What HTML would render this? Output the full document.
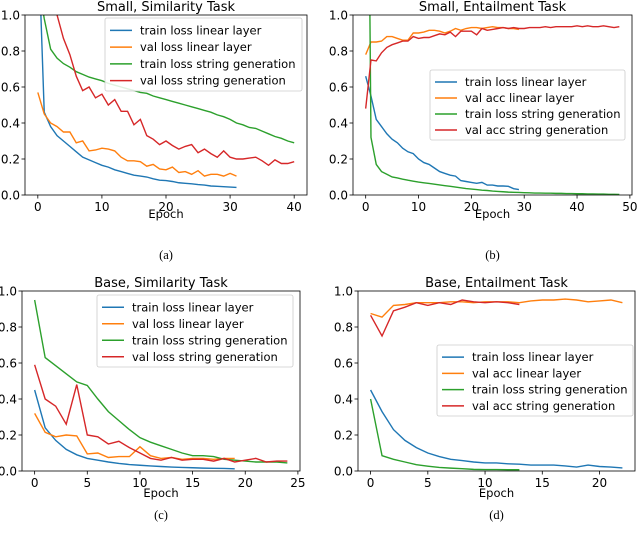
<!DOCTYPE html>
<html><head><meta charset="utf-8"><style>
html,body{margin:0;padding:0;background:#fff;}
svg{display:block;font-family:"DejaVu Sans","Liberation Sans",sans-serif;}
</style></head><body>
<svg id="fig" width="640" height="536" viewBox="0 0 640 536"></svg>
<script>
// ---- Panel (a) Small, Similarity
const aTrainLin=[1.5,0.46,0.38,0.33,0.30,0.27,0.24,0.21,0.195,0.18,0.165,0.155,0.14,0.13,0.12,0.11,0.105,0.1,0.09,0.082,0.08,0.075,0.068,0.065,0.062,0.058,0.055,0.05,0.048,0.046,0.044,0.042];
const aValLin=[0.57,0.45,0.40,0.38,0.35,0.35,0.29,0.30,0.245,0.25,0.26,0.255,0.245,0.21,0.19,0.19,0.185,0.16,0.17,0.145,0.14,0.155,0.125,0.13,0.115,0.135,0.105,0.115,0.115,0.105,0.12,0.105];
const aTrainGen=[1.2,0.98,0.81,0.76,0.73,0.71,0.685,0.67,0.655,0.645,0.635,0.62,0.61,0.60,0.59,0.58,0.57,0.565,0.55,0.54,0.53,0.52,0.51,0.50,0.49,0.48,0.47,0.46,0.445,0.435,0.42,0.40,0.39,0.375,0.37,0.355,0.34,0.325,0.315,0.30,0.29];
const aValGen=[1.5,1.3,1.1,1.0,0.87,0.78,0.66,0.58,0.60,0.54,0.56,0.50,0.53,0.465,0.465,0.39,0.42,0.33,0.31,0.28,0.30,0.275,0.255,0.27,0.28,0.235,0.255,0.23,0.21,0.245,0.21,0.20,0.20,0.205,0.21,0.19,0.165,0.195,0.175,0.175,0.185];
const aXTicks=[0,10,20,30,40];
// ---- Panel (b) Small, Entailment
const bTrainLin=[0.66,0.55,0.42,0.38,0.34,0.31,0.29,0.26,0.24,0.23,0.20,0.18,0.17,0.15,0.13,0.12,0.11,0.105,0.08,0.075,0.07,0.065,0.07,0.055,0.055,0.05,0.05,0.048,0.035,0.03];
const bValLin=[0.78,0.85,0.85,0.855,0.88,0.88,0.87,0.86,0.86,0.90,0.90,0.905,0.915,0.915,0.91,0.90,0.91,0.925,0.915,0.925,0.93,0.93,0.925,0.93,0.935,0.93,0.93,0.925,0.925,0.92];
const bTrainGen=[3.7,0.32,0.17,0.13,0.115,0.10,0.095,0.088,0.082,0.077,0.072,0.068,0.064,0.06,0.056,0.052,0.048,0.044,0.04,0.036,0.033,0.03,0.027,0.025,0.022,0.02,0.018,0.016,0.015,0.014,0.013,0.012,0.011,0.011,0.01,0.01,0.009,0.009,0.008,0.008,0.007,0.007,0.006,0.006,0.005,0.005,0.004,0.004,0.003];
const bValGen=[0.48,0.75,0.745,0.79,0.82,0.835,0.845,0.855,0.855,0.88,0.87,0.875,0.875,0.885,0.895,0.89,0.905,0.88,0.91,0.91,0.91,0.89,0.925,0.915,0.92,0.925,0.93,0.925,0.93,0.925,0.925,0.93,0.93,0.93,0.935,0.93,0.935,0.935,0.935,0.935,0.94,0.935,0.94,0.935,0.935,0.94,0.935,0.93,0.935];
const bXTicks=[0,10,20,30,40,50];
// ---- Panel (c) Base, Similarity
const cTrainLin=[0.45,0.24,0.17,0.12,0.09,0.07,0.06,0.05,0.042,0.036,0.032,0.028,0.025,0.022,0.02,0.018,0.016,0.015,0.014,0.012];
const cValLin=[0.32,0.215,0.19,0.20,0.195,0.095,0.10,0.075,0.08,0.08,0.135,0.085,0.07,0.075,0.065,0.07,0.07,0.065,0.07,0.07];
const cTrainGen=[0.95,0.63,0.585,0.54,0.495,0.475,0.40,0.33,0.28,0.23,0.185,0.16,0.14,0.12,0.10,0.085,0.085,0.08,0.065,0.06,0.055,0.05,0.05,0.05,0.045];
const cValGen=[0.59,0.40,0.36,0.26,0.48,0.20,0.19,0.15,0.165,0.13,0.10,0.07,0.06,0.075,0.06,0.065,0.065,0.055,0.07,0.05,0.06,0.07,0.05,0.055,0.055];
const cXTicks=[0,5,10,15,20,25];
// ---- Panel (d) Base, Entailment
const dTrainLin=[0.45,0.33,0.23,0.17,0.13,0.10,0.08,0.065,0.058,0.05,0.045,0.045,0.04,0.038,0.033,0.033,0.033,0.028,0.022,0.033,0.025,0.022,0.017];
const dValLin=[0.875,0.855,0.92,0.925,0.935,0.935,0.935,0.94,0.94,0.935,0.94,0.94,0.94,0.935,0.945,0.95,0.95,0.955,0.95,0.94,0.945,0.95,0.935];
const dTrainGen=[0.40,0.085,0.065,0.05,0.035,0.027,0.02,0.016,0.013,0.009,0.008,0.008,0.007,0.007];
const dValGen=[0.865,0.75,0.89,0.91,0.935,0.92,0.935,0.925,0.95,0.94,0.935,0.94,0.935,0.925];
const dXTicks=[0,5,10,15,20];
const yTicks=[0,0.2,0.4,0.6,0.8,1.0];
const simLabels=["train loss linear layer","val loss linear layer","train loss string generation","val loss string generation"];
const entLabels=["train loss linear layer","val acc linear layer","train loss string generation","val acc string generation"];
const colors=["#1f77b4","#ff7f0e","#2ca02c","#d62728"];

const NS="http://www.w3.org/2000/svg";
const svg=document.getElementById('fig');
function mk(tag,attrs,parent){const e=document.createElementNS(NS,tag);for(const k in attrs)e.setAttribute(k,attrs[k]);(parent||svg).appendChild(e);return e;}

const panels=[
 {id:'a',title:"Small, Similarity Task",L:25,R:307,T:15,B:195,xmin:-2,xmax:42,ticks:aXTicks,series:[aTrainLin,aValLin,aTrainGen,aValGen],labels:simLabels,leg:{x:105,y:18,w:197,h:73},cap:"(a)",capY:259,epY:218},
 {id:'b',title:"Small, Entailment Task",L:353,R:632,T:15,B:195,xmin:-2.4,xmax:50.4,ticks:bXTicks,series:[bTrainLin,bValLin,bTrainGen,bValGen],labels:entLabels,leg:{x:430,y:70,w:195,h:70},cap:"(b)",capY:259,epY:218},
 {id:'c',title:"Base, Similarity Task",L:22,R:300,T:291,B:471,xmin:-1.2,xmax:25.2,ticks:cXTicks,series:[cTrainLin,cValLin,cTrainGen,cValGen],labels:simLabels,leg:{x:97,y:295,w:196,h:72},cap:"(c)",capY:519,epY:497},
 {id:'d',title:"Base, Entailment Task",L:358,R:635,T:291,B:471,xmin:-1.1,xmax:23.1,ticks:dXTicks,series:[dTrainLin,dValLin,dTrainGen,dValGen],labels:entLabels,leg:{x:437,y:345,w:196,h:71},cap:"(d)",capY:519,epY:497}
];

panels.forEach(p=>{
  const g=mk('g',{});
  
  
  const xs=v=>p.L+(v-p.xmin)/(p.xmax-p.xmin)*(p.R-p.L);
  const ys=v=>p.B-v*(p.B-p.T);
  const cp=mk('clipPath',{id:'clip'+p.id},g);
  mk('rect',{x:p.L,y:p.T,width:p.R-p.L,height:p.B-p.T},cp);
  const t=mk('text',{x:(p.L+p.R)/2,y:p.T-4,'text-anchor':'middle','font-size':'13',fill:'#000'},g);
  t.textContent=p.title;
  
  
  p.series.forEach((s,i)=>{
    const pts=s.map((v,k)=>xs(k).toFixed(2)+','+ys(v).toFixed(2)).join(' ');
    const pl=mk('polyline',{points:pts,fill:'none',stroke:colors[i],'stroke-width':'1.4','clip-path':'url(#clip'+p.id+')'},g);
    
    
  });
  mk('rect',{x:p.L,y:p.T,width:p.R-p.L,height:p.B-p.T,fill:'none',stroke:'#000','stroke-width':'0.8'},g);
  yTicks.forEach(v=>{
    mk('line',{x1:p.L-3.5,x2:p.L,y1:ys(v),y2:ys(v),stroke:'#000','stroke-width':'0.8'},g);
    const tx=mk('text',{x:p.L-5,y:ys(v)+4.3,'text-anchor':'end','font-size':'12'},g);
    tx.textContent=v.toFixed(1);
    
    
  });
  p.ticks.forEach(v=>{
    mk('line',{x1:xs(v),x2:xs(v),y1:p.B,y2:p.B+3.5,stroke:'#000','stroke-width':'0.8'},g);
    const tx=mk('text',{x:xs(v),y:p.B+16,'text-anchor':'middle','font-size':'12'},g);
    tx.textContent=String(v);
    
    
  });
  const ep=mk('text',{x:(p.L+p.R)/2,y:p.epY,'text-anchor':'middle','font-size':'11.5'},g);
  ep.textContent='Epoch';
  
  
  const lg=mk('g',{},g);
  
  
  mk('rect',{x:p.leg.x,y:p.leg.y,width:p.leg.w,height:p.leg.h,fill:'#fff','fill-opacity':'0.85',stroke:'#ccc','stroke-width':'0.8',rx:'2'},lg);
  const step=(p.leg.h-6)/4;
  p.labels.forEach((lab,i)=>{
    const yy=p.leg.y+3+step*(i+0.5)+1;
    mk('line',{x1:p.leg.x+5,x2:p.leg.x+27,y1:yy,y2:yy,stroke:colors[i],'stroke-width':'1.4'},lg);
    const tx=mk('text',{x:p.leg.x+35,y:yy+4,'font-size':'11.5'},lg);
    tx.textContent=lab;
    
    
  });
  const cap=mk('text',{x:(p.L+p.R)/2,y:p.capY,'text-anchor':'middle','font-size':'12.5','font-family':'Liberation Serif, serif'},g);
  cap.textContent=p.cap;
  
  
});
</script>
</body></html>
